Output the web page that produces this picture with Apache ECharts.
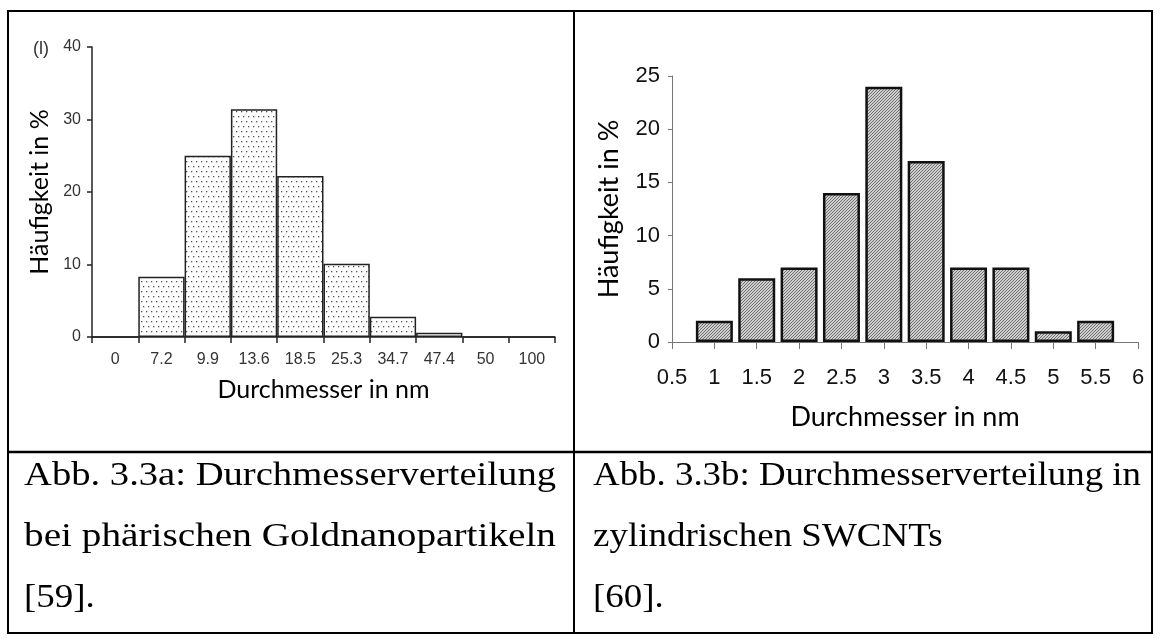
<!DOCTYPE html>
<html>
<head>
<meta charset="utf-8">
<script src="https://cdn.jsdelivr.net/npm/echarts@6/dist/echarts.min.js"></script>
<style>
html, body { margin: 0; padding: 0; background: #fff; }
#chart { width: 1162px; height: 639px; }
</style>
</head>
<body>
<div id="chart"></div>
<script>
// Abb. 3.3a - Goldnanopartikel (Klassen als Kategorien)
const goldCategories = ['0', '7.2', '9.9', '13.6', '18.5', '25.3', '34.7', '47.4', '50', '100']
const goldValues = [0, 8.3, 25, 31.4, 22.2, 10.1, 2.8, 0.6, 0, 0]

// Abb. 3.3b - SWCNTs
const swcntDiameters = [1, 1.5, 2, 2.5, 3, 3.5, 4, 4.5, 5, 5.5]
const swcntValues = [2, 6, 7, 14, 24, 17, 7, 7, 1, 2]

const captionLeft = ['Abb. 3.3a: Durchmesserverteilung', 'bei phärischen Goldnanopartikeln', '[59].']
const captionRight = ['Abb. 3.3b: Durchmesserverteilung in', 'zylindrischen SWCNTs', '[60].']

// Punktraster fuer die linke Grafik
function dotPattern() {
  const c = document.createElement('canvas')
  c.width = 10
  c.height = 10
  const ctx = c.getContext('2d')
  ctx.fillStyle = '#fff'
  ctx.fillRect(0, 0, 10, 10)
  ctx.fillStyle = '#555'
  ;[[1, 1], [6, 1], [3, 6], [8, 6]].forEach(([x, y]) => ctx.fillRect(x, y, 1.3, 1.3))
  return c
}

// Schraffur (////) fuer die rechte Grafik
function hatchPattern() {
  const c = document.createElement('canvas')
  c.width = 6
  c.height = 6
  const ctx = c.getContext('2d')
  const img = ctx.createImageData(6, 6)
  for (let y = 0; y < 6; y++) {
    for (let x = 0; x < 6; x++) {
      const v = (x + y) % 3 === 0 ? 115 : 205
      const i = (y * 6 + x) * 4
      img.data[i] = v
      img.data[i + 1] = v
      img.data[i + 2] = v
      img.data[i + 3] = 255
    }
  }
  ctx.putImageData(img, 0, 0)
  return c
}

// Blocksatz wie im Word-Dokument: volle Zeilen auf Zellbreite strecken
const measureCtx = document.createElement('canvas').getContext('2d')
measureCtx.font = '33px "Liberation Serif"'
function fitScale(text, width) {
  return width / measureCtx.measureText(text).width
}

const captionStyle = { fontFamily: 'Liberation Serif', fontSize: 33, fill: '#000', verticalAlign: 'middle' }

const graphics = [
  { type: 'rect', shape: { x: 8, y: 11, width: 1144, height: 622 }, style: { fill: 'none', stroke: '#000', lineWidth: 2 } },
  { type: 'line', shape: { x1: 574, y1: 11, x2: 574, y2: 633 }, style: { stroke: '#000', lineWidth: 2 } },
  { type: 'line', shape: { x1: 8, y1: 452, x2: 1152, y2: 452 }, style: { stroke: '#000', lineWidth: 2.5 } },
  { type: 'text', x: 33, y: 49, style: { text: '(l)', fontFamily: 'Liberation Sans', fontSize: 18, fill: '#333', verticalAlign: 'middle' } }
]
captionLeft.forEach((t, i) => graphics.push({
  type: 'text', x: 24, y: 476 + i * 61, scaleX: i < 2 ? fitScale(t, 532) : 1.12,
  style: Object.assign({ text: t }, captionStyle)
}))
captionRight.forEach((t, i) => graphics.push({
  type: 'text', x: 593, y: 476 + i * 61, scaleX: i < 1 ? fitScale(t, 548) : 1.12,
  style: Object.assign({ text: t }, captionStyle)
}))

const chart = echarts.init(document.getElementById('chart'))
chart.setOption({
  animation: false,
  backgroundColor: '#fff',
  graphic: graphics,
  grid: [
    { left: 92, right: 607, top: 47, bottom: 302 },
    { left: 672, right: 24, top: 76, bottom: 297 }
  ],
  xAxis: [
    {
      type: 'category',
      gridIndex: 0,
      data: goldCategories,
      boundaryGap: true,
      axisLine: { show: true, lineStyle: { color: '#222', width: 1.5 } },
      axisTick: { show: true, interval: 0, length: 6, lineStyle: { color: '#222', width: 1.5 } },
      axisLabel: { interval: 0, color: '#333', fontFamily: 'Liberation Sans', fontSize: 16, margin: 15 },
      splitLine: { show: false },
      name: 'Durchmesser in nm',
      nameLocation: 'middle',
      nameGap: 40,
      nameTextStyle: { fontFamily: 'Lato', fontSize: 25, color: '#000' }
    },
    {
      type: 'value',
      gridIndex: 1,
      min: 0.5,
      max: 6,
      interval: 0.5,
      axisLine: { show: true, lineStyle: { color: '#777', width: 1 } },
      axisTick: { show: true, length: 7, lineStyle: { color: '#777', width: 1 } },
      axisLabel: { color: '#111', fontFamily: 'Liberation Sans', fontSize: 22, margin: 25 },
      splitLine: { show: false },
      name: 'Durchmesser in nm',
      nameLocation: 'middle',
      nameGap: 62,
      nameTextStyle: { fontFamily: 'Lato', fontSize: 27, color: '#000' }
    }
  ],
  yAxis: [
    {
      type: 'value',
      gridIndex: 0,
      min: 0,
      max: 40,
      interval: 10,
      axisLine: { show: true, lineStyle: { color: '#222', width: 1.5 } },
      axisTick: { show: true, length: 5, lineStyle: { color: '#222', width: 1.5 } },
      axisLabel: { color: '#333', fontFamily: 'Liberation Sans', fontSize: 16, margin: 11 },
      splitLine: { show: false },
      name: 'Häufigkeit in %',
      nameLocation: 'middle',
      nameGap: 40,
      nameTextStyle: { fontFamily: 'Lato', fontSize: 25, color: '#000' }
    },
    {
      type: 'value',
      gridIndex: 1,
      min: 0,
      max: 25,
      interval: 5,
      axisLine: { show: true, lineStyle: { color: '#777', width: 1 } },
      axisTick: { show: true, length: 4, lineStyle: { color: '#777', width: 1 } },
      axisLabel: { color: '#111', fontFamily: 'Liberation Sans', fontSize: 22, margin: 12 },
      splitLine: { show: false },
      name: 'Häufigkeit in %',
      nameLocation: 'middle',
      nameGap: 49,
      nameTextStyle: { fontFamily: 'Lato', fontSize: 27, color: '#000' }
    }
  ],
  series: [
    {
      type: 'bar',
      xAxisIndex: 0,
      yAxisIndex: 0,
      data: goldValues,
      barCategoryGap: '0%',
      itemStyle: {
        color: { image: dotPattern(), repeat: 'repeat' },
        borderColor: '#222',
        borderWidth: 1.5
      }
    },
    {
      type: 'bar',
      xAxisIndex: 1,
      yAxisIndex: 1,
      data: swcntDiameters.map((d, i) => [d, swcntValues[i]]),
      barWidth: 37,
      itemStyle: {
        color: { image: hatchPattern(), repeat: 'repeat' },
        borderColor: '#111',
        borderWidth: 2.5
      }
    }
  ]
})
</script>
</body>
</html>
